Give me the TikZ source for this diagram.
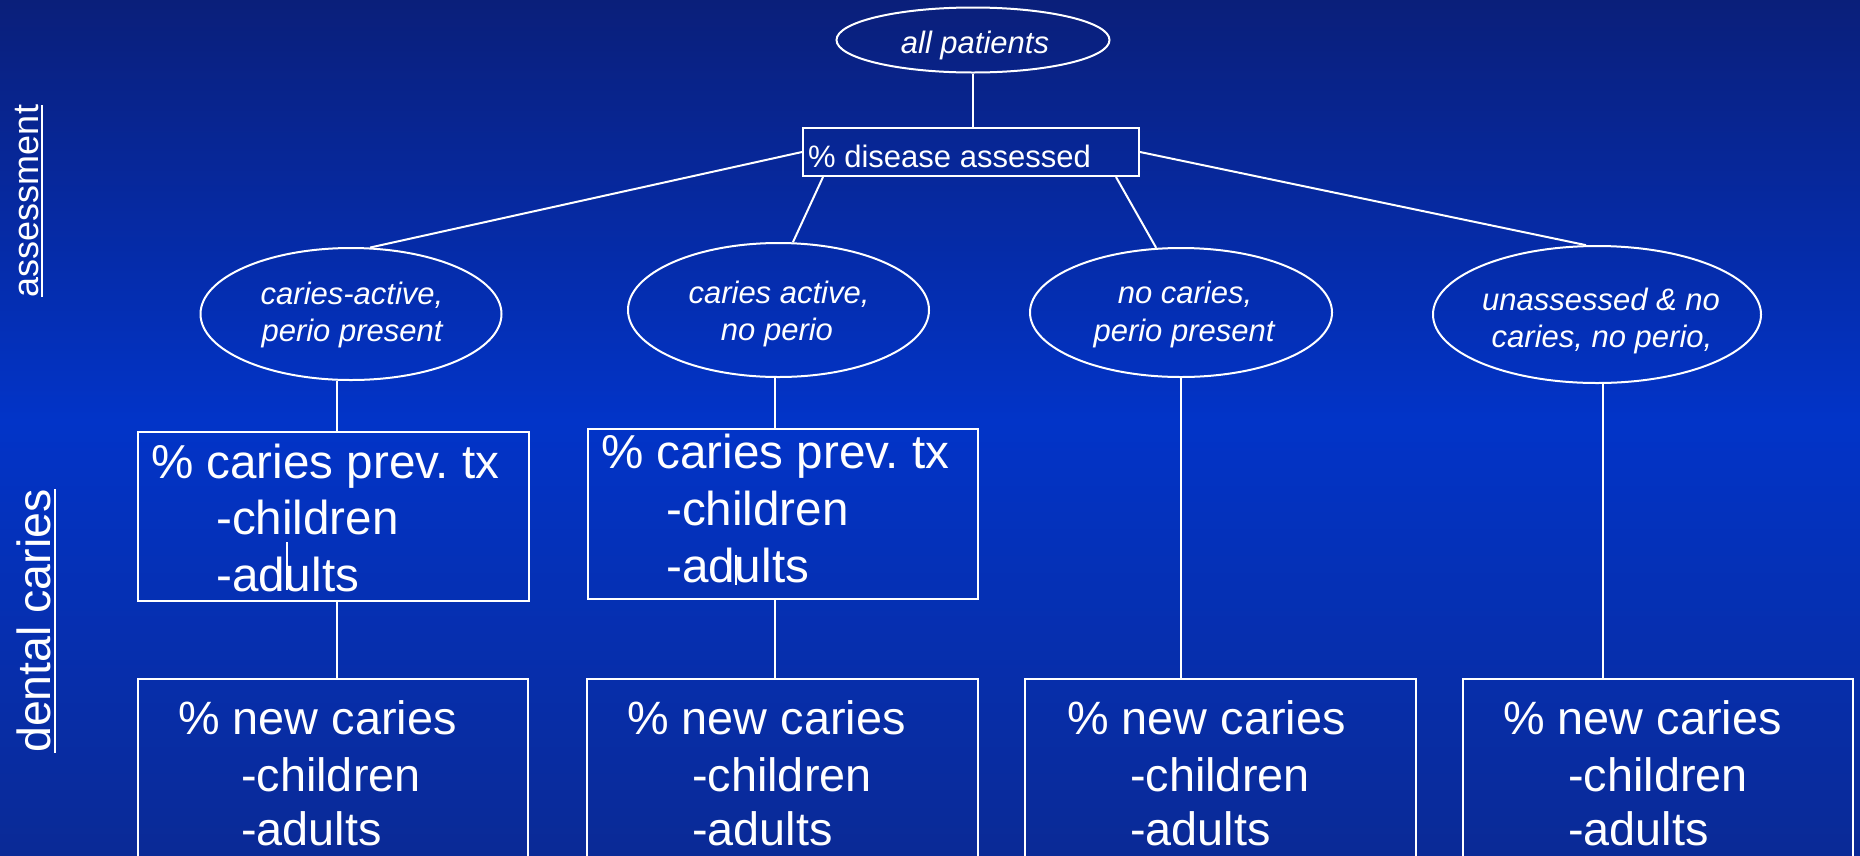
\documentclass[tikz,border=0pt]{standalone}
\usepackage{fontspec}
\setmainfont{Liberation Sans}
\usetikzlibrary{shapes.geometric,calc}
\definecolor{bgtop}{RGB}{10,31,122}
\definecolor{bgmid}{RGB}{2,52,200}
\definecolor{bgbot}{RGB}{10,42,150}
\tikzset{
  wline/.style={draw=white, line width=2pt},
  oval/.style={ellipse, draw=white, line width=2pt, inner sep=0pt},
  boxr/.style={rectangle, draw=white, line width=2pt, inner sep=0pt},
  bigtxt/.style={text=white, inner sep=0pt, anchor=base west, font=\fontsize{46.8}{56}\selectfont},
  prevtxt/.style={bigtxt, font=\fontsize{47.6}{56}\selectfont},
  ovtxt/.style={text=white, inner sep=0pt, anchor=base, font=\fontsize{31}{37}\selectfont\itshape},
  midtxt/.style={text=white, inner sep=0pt, anchor=base west, font=\fontsize{31}{37}\selectfont},
  sidetxt/.style={text=white, inner sep=0pt, anchor=base, rotate=90}
}
\newcommand\boxlines[8]{%
  \node[#8] (#1a) at (#2,#4) {#7};
  \node[#8] (#1b) at (#3,#5) {-children};
  \node[#8] (#1c) at (#3,#6) {-adults};
}
\begin{document}
\begin{tikzpicture}[x=1pt,y=-1pt]
\useasboundingbox (0,0) rectangle (1860,855);
\clip (0,0) rectangle (1860,855);
\shade[top color=bgtop,bottom color=bgmid] (0,0) rectangle (1860,421);
\shade[top color=bgmid,bottom color=bgbot] (0,420) rectangle (1860,855);

% side labels
\node[sidetxt, font=\fontsize{36}{40}\selectfont] (lab1) at (38,201)
  {\vtop{\hbox{assessment}\kern3pt\hrule height 2pt}};
\node[sidetxt, font=\fontsize{46.5}{50}\selectfont] (lab2) at (50,621)
  {\vtop{\hbox{dental caries}\kern4pt\hrule height 2pt}};

% top
\node[oval, minimum width=273, minimum height=65] (ap) at (973,40) {};
\node[ovtxt] (apt) at (975,53) {all patients};
\node[boxr, minimum width=336, minimum height=48] (dis) at (971,152) {};
\node[midtxt] (dist) at (808,167) {\% disease assessed};

% second level ellipses
\node[oval, minimum width=301, minimum height=132] (e1) at (351,314) {};
\node[oval, minimum width=301, minimum height=134] (e2) at (778.5,310) {};
\node[oval, minimum width=302, minimum height=129] (e3) at (1181,312.5) {};
\node[oval, minimum width=328, minimum height=137] (e4) at (1597,314.5) {};
\node[ovtxt] (e1a) at (352,304) {caries-active,};
\node[ovtxt] (e1b) at (352,341) {perio present};
\node[ovtxt] (e2a) at (779,303) {caries active,};
\node[ovtxt] (e2b) at (777,340) {no perio};
\node[ovtxt] (e3a) at (1185,303) {no caries,};
\node[ovtxt] (e3b) at (1184,341) {perio present};
\node[ovtxt] (e4a) at (1601,310) {unassessed \& no};
\node[ovtxt] (e4b) at (1602,347) {caries, no perio,};

% boxes
\node[boxr, minimum width=391, minimum height=169] (b1) at (333.5,516.5) {};
\node[boxr, minimum width=390, minimum height=170] (b2) at (783,514) {};
\node[boxr, minimum width=390, minimum height=201] (n1) at (333,779.5) {};
\node[boxr, minimum width=391, minimum height=201] (n2) at (782.5,779.5) {};
\node[boxr, minimum width=391, minimum height=201] (n3) at (1220.5,779.5) {};
\node[boxr, minimum width=390, minimum height=201] (n4) at (1658,779.5) {};

\boxlines{p1}{151}{216}{478}{534}{591}{\% caries prev.\ tx}{prevtxt}
\boxlines{p2}{601}{666}{468}{525}{582}{\% caries prev.\ tx}{prevtxt}
\boxlines{q1}{178}{241}{734}{791}{845}{\% new caries}{bigtxt}
\boxlines{q2}{627}{692}{734}{791}{845}{\% new caries}{bigtxt}
\boxlines{q3}{1067}{1130}{734}{791}{845}{\% new caries}{bigtxt}
\boxlines{q4}{1503}{1568}{734}{791}{845}{\% new caries}{bigtxt}

% text cursors
\draw[white, line width=1.5pt] (287,542) -- (287,590);
\draw[white, line width=1.5pt] (736,555) -- (736,585);

% connectors
\draw[wline] (ap.south) -- (ap.south |- dis.north);
\draw[wline] (dis.west) -- (e1.74);
\draw[wline] ($(dis.south west)+(21,0)$) -- (e2.78);
\draw[wline] ($(dis.south east)+(-24,0)$) -- (e3.111);
\draw[wline] (dis.east) -- (e4.99);
\coordinate (c1) at ($(b1.north)+(3.5,0)$);
\coordinate (c2) at ($(b2.north)+(-8.5,0)$);
\coordinate (c4) at ($(e4.south)+(6,0)$);
\draw[wline] (c1) -- (c1 |- e1.south);
\draw[wline] (c1 |- b1.south) -- (c1 |- n1.north);
\draw[wline] (c2) -- (c2 |- e2.south);
\draw[wline] (c2 |- b2.south) -- (c2 |- n2.north);
\draw[wline] (e3.south) -- (e3.south |- n3.north);
\draw[wline] (c4) -- (c4 |- n4.north);
\end{tikzpicture}
\end{document}
